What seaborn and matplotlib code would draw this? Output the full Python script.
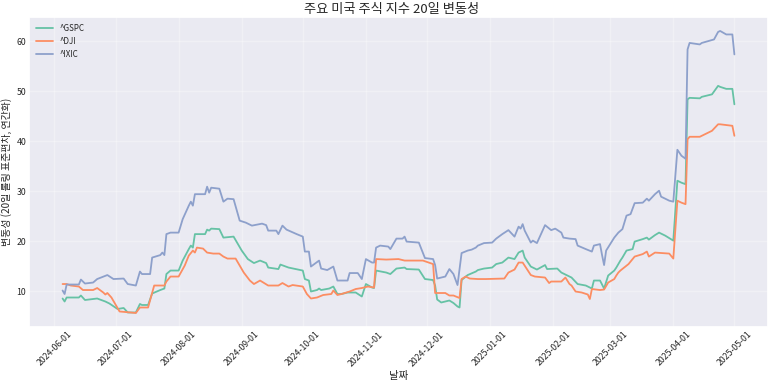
import pandas as pd
import matplotlib.pyplot as plt
import matplotlib.dates as mdates
import seaborn as sns

###Data###

tickers = ["^GSPC", "^DJI", "^IXIC"]

gspc_dates = ["2024-06-05", "2024-06-06", "2024-06-07", "2024-06-13", "2024-06-14", "2024-06-16", "2024-06-22",
              "2024-06-26", "2024-06-28", "2024-07-02", "2024-07-05", "2024-07-07", "2024-07-11", "2024-07-13",
              "2024-07-14", "2024-07-17", "2024-07-19", "2024-07-23", "2024-07-25", "2024-07-26", "2024-07-28",
              "2024-08-01", "2024-08-03", "2024-08-06", "2024-08-07", "2024-08-08", "2024-08-09", "2024-08-14",
              "2024-08-15", "2024-08-16", "2024-08-17", "2024-08-21", "2024-08-23", "2024-08-28", "2024-09-01",
              "2024-09-04", "2024-09-07", "2024-09-10", "2024-09-13", "2024-09-14", "2024-09-19", "2024-09-20",
              "2024-09-24", "2024-10-01", "2024-10-02", "2024-10-04", "2024-10-05", "2024-10-08", "2024-10-09",
              "2024-10-10", "2024-10-14", "2024-10-16", "2024-10-18", "2024-10-20", "2024-10-23", "2024-10-27",
              "2024-10-30", "2024-11-01", "2024-11-04", "2024-11-05", "2024-11-06", "2024-11-11", "2024-11-13",
              "2024-11-16", "2024-11-20", "2024-11-21", "2024-11-27", "2024-11-30", "2024-12-04", "2024-12-05",
              "2024-12-06", "2024-12-08", "2024-12-12", "2024-12-14", "2024-12-16", "2024-12-17", "2024-12-18",
              "2024-12-21", "2024-12-25", "2024-12-26", "2024-12-29", "2025-01-02", "2025-01-04", "2025-01-07",
              "2025-01-10", "2025-01-13", "2025-01-15", "2025-01-17", "2025-01-18", "2025-01-21", "2025-01-24",
              "2025-01-28", "2025-01-29", "2025-02-03", "2025-02-05", "2025-02-08", "2025-02-10", "2025-02-13",
              "2025-02-17", "2025-02-20", "2025-02-21", "2025-02-24", "2025-02-26", "2025-02-28", "2025-03-03",
              "2025-03-04", "2025-03-06", "2025-03-07", "2025-03-09", "2025-03-12", "2025-03-13", "2025-03-17",
              "2025-03-19", "2025-03-20", "2025-03-23", "2025-03-25", "2025-03-28", "2025-04-01", "2025-04-03",
              "2025-04-05", "2025-04-07", "2025-04-08", "2025-04-09", "2025-04-14", "2025-04-15", "2025-04-20",
              "2025-04-23", "2025-04-24", "2025-04-27", "2025-04-30", "2025-05-01"]
gspc_vol = [8.5, 7.9, 8.7, 8.7, 9.1, 8.2, 8.5,
            7.9, 7.5, 6.4, 6.6, 5.7, 5.7, 7.4,
            7.2, 7.2, 9.5, 10.2, 10.5, 13.4, 14.1,
            14.1, 16.1, 18.4, 19.1, 18.7, 21.4, 21.4,
            22.3, 22.1, 22.5, 22.4, 20.7, 20.9, 18.1,
            16.4, 15.6, 16.1, 15.6, 14.7, 14.4, 15.3,
            14.7, 14.1, 12.4, 12.1, 9.9, 10.2, 10.5,
            10.2, 10.5, 10.9, 9.4, 9.4, 9.7, 9.7,
            8.9, 11.4, 10.7, 10.6, 14.1, 13.7, 13.4,
            14.5, 14.7, 14.4, 14.3, 12.4, 12.2, 11.1,
            8.3, 7.7, 8.1, 7.6, 6.9, 6.7, 12.2,
            13.2, 13.9, 14.2, 14.5, 14.7, 15.4, 15.7,
            16.7, 16.4, 17.7, 18.1, 16.7, 14.9, 14.3,
            15.2, 14.4, 14.5, 13.7, 13.1, 12.7, 11.4,
            11.1, 10.5, 12.1, 12.1, 10.5, 13.1, 14.1,
            14.7, 16.1, 16.7, 18.1, 18.4, 19.9, 20.4,
            20.7, 20.3, 21.2, 21.7, 21.1, 20.1, 32.1,
            31.7, 31.4, 48.4, 48.7, 48.6, 48.9, 49.4,
            51.1, 50.9, 50.5, 50.5, 47.4]

dji_dates = ["2024-06-05", "2024-06-07", "2024-06-09", "2024-06-13", "2024-06-15", "2024-06-20", "2024-06-22",
             "2024-06-25", "2024-06-26", "2024-06-27", "2024-06-29", "2024-07-03", "2024-07-11", "2024-07-13",
             "2024-07-17", "2024-07-20", "2024-07-25", "2024-07-26", "2024-07-28", "2024-08-01", "2024-08-04",
             "2024-08-06", "2024-08-08", "2024-08-09", "2024-08-10", "2024-08-13", "2024-08-15", "2024-08-18",
             "2024-08-21", "2024-08-23", "2024-08-25", "2024-08-29", "2024-09-02", "2024-09-05", "2024-09-07",
             "2024-09-10", "2024-09-14", "2024-09-19", "2024-09-21", "2024-09-24", "2024-09-26", "2024-10-01",
             "2024-10-03", "2024-10-05", "2024-10-08", "2024-10-11", "2024-10-15", "2024-10-16", "2024-10-18",
             "2024-10-20", "2024-10-24", "2024-10-27", "2024-10-30", "2024-11-02", "2024-11-05", "2024-11-06",
             "2024-11-11", "2024-11-17", "2024-11-20", "2024-11-29", "2024-12-04", "2024-12-05", "2024-12-10",
             "2024-12-12", "2024-12-14", "2024-12-17", "2024-12-18", "2024-12-20", "2024-12-22", "2024-12-26",
             "2024-12-30", "2025-01-08", "2025-01-10", "2025-01-13", "2025-01-15", "2025-01-17", "2025-01-21",
             "2025-01-23", "2025-01-28", "2025-01-30", "2025-01-31", "2025-02-05", "2025-02-07", "2025-02-09",
             "2025-02-10", "2025-02-12", "2025-02-15", "2025-02-18", "2025-02-19", "2025-02-20", "2025-02-24",
             "2025-02-26", "2025-02-28", "2025-03-03", "2025-03-04", "2025-03-05", "2025-03-06", "2025-03-10",
             "2025-03-13", "2025-03-17", "2025-03-19", "2025-03-20", "2025-03-23", "2025-03-30", "2025-04-01",
             "2025-04-03", "2025-04-05", "2025-04-07", "2025-04-08", "2025-04-09", "2025-04-14", "2025-04-20",
             "2025-04-23", "2025-04-24", "2025-04-30", "2025-05-01"]
dji_vol = [11.4, 11.4, 11.1, 10.9, 10.2, 10.2, 10.6,
           9.7, 9.3, 9.6, 8.7, 5.9, 5.6, 6.7,
           6.7, 11.1, 11.1, 11.9, 12.9, 12.9, 15.1,
           17.1, 18.1, 17.7, 18.7, 18.5, 17.7, 17.5,
           17.5, 16.9, 16.5, 16.5, 13.7, 12.1, 11.4,
           12.1, 11.1, 11.1, 11.6, 10.9, 11.2, 10.9,
           9.4, 8.5, 8.7, 9.2, 9.4, 10.1, 9.2,
           9.4, 9.9, 10.4, 10.6, 10.9, 10.7, 16.4,
           16.3, 16.4, 16.1, 16.1, 15.4, 9.6, 9.6,
           9.1, 9.1, 8.6, 12.4, 12.9, 12.5, 12.4,
           12.4, 12.5, 13.7, 14.3, 15.7, 15.7, 13.2,
           12.9, 12.7, 11.6, 11.9, 11.9, 12.7, 11.4,
           11.1, 9.9, 9.7, 9.3, 8.4, 10.4, 10.2,
           10.3, 11.7, 12.4, 13.1, 13.7, 14.1, 15.4,
           16.9, 17.4, 17.9, 16.9, 17.7, 17.5, 16.5,
           28.1, 27.7, 27.4, 40.4, 40.9, 40.9, 42.1,
           43.4, 43.4, 43.1, 41.1]

ixic_dates = ["2024-06-05", "2024-06-06", "2024-06-07", "2024-06-13", "2024-06-14", "2024-06-16", "2024-06-20",
              "2024-06-22", "2024-06-27", "2024-06-30", "2024-07-05", "2024-07-07", "2024-07-11", "2024-07-13",
              "2024-07-14", "2024-07-18", "2024-07-19", "2024-07-23", "2024-07-24", "2024-07-25", "2024-07-26",
              "2024-07-28", "2024-08-01", "2024-08-03", "2024-08-06", "2024-08-07", "2024-08-08", "2024-08-09",
              "2024-08-14", "2024-08-15", "2024-08-16", "2024-08-17", "2024-08-21", "2024-08-23", "2024-08-25",
              "2024-08-28", "2024-08-31", "2024-09-03", "2024-09-06", "2024-09-11", "2024-09-13", "2024-09-14",
              "2024-09-18", "2024-09-19", "2024-09-21", "2024-09-23", "2024-09-28", "2024-10-01", "2024-10-02",
              "2024-10-04", "2024-10-05", "2024-10-09", "2024-10-10", "2024-10-13", "2024-10-16", "2024-10-18",
              "2024-10-23", "2024-10-24", "2024-10-28", "2024-10-30", "2024-11-01", "2024-11-04", "2024-11-05",
              "2024-11-06", "2024-11-08", "2024-11-12", "2024-11-13", "2024-11-16", "2024-11-19", "2024-11-20",
              "2024-11-21", "2024-11-27", "2024-11-30", "2024-12-04", "2024-12-05", "2024-12-06", "2024-12-10",
              "2024-12-12", "2024-12-14", "2024-12-16", "2024-12-18", "2024-12-21", "2024-12-23", "2024-12-25",
              "2024-12-26", "2024-12-29", "2025-01-02", "2025-01-04", "2025-01-07", "2025-01-10", "2025-01-13",
              "2025-01-15", "2025-01-16", "2025-01-17", "2025-01-18", "2025-01-21", "2025-01-22", "2025-01-24",
              "2025-01-28", "2025-01-31", "2025-02-02", "2025-02-05", "2025-02-06", "2025-02-09", "2025-02-12",
              "2025-02-13", "2025-02-17", "2025-02-20", "2025-02-21", "2025-02-24", "2025-02-25", "2025-02-26",
              "2025-02-27", "2025-03-01", "2025-03-03", "2025-03-05", "2025-03-07", "2025-03-09", "2025-03-11",
              "2025-03-13", "2025-03-17", "2025-03-19", "2025-03-20", "2025-03-23", "2025-03-25", "2025-03-26",
              "2025-03-30", "2025-04-01", "2025-04-03", "2025-04-05", "2025-04-07", "2025-04-08", "2025-04-09",
              "2025-04-14", "2025-04-15", "2025-04-21", "2025-04-23", "2025-04-24", "2025-04-27", "2025-04-30",
              "2025-05-01"]
ixic_vol = [10.1, 9.4, 11.3, 11.3, 12.3, 11.5, 11.7,
            12.4, 13.2, 12.4, 12.5, 11.4, 11.1, 13.9,
            13.4, 13.4, 16.7, 17.2, 17.7, 17.2, 21.4,
            21.7, 21.7, 24.4, 27.1, 27.9, 27.1, 29.4,
            29.4, 30.9, 29.7, 30.7, 30.5, 27.9, 28.5,
            28.4, 24.1, 23.7, 23.1, 23.5, 23.2, 22.1,
            22.1, 21.4, 23.1, 22.3, 21.4, 20.9, 17.9,
            17.9, 14.9, 16.1, 14.5, 14.2, 14.9, 12.1,
            12.1, 13.6, 13.6, 12.4, 16.4, 15.7, 15.7,
            18.7, 19.1, 18.9, 18.4, 20.5, 20.5, 20.9,
            19.9, 19.7, 16.6, 16.4, 15.2, 12.5, 12.9,
            14.4, 13.4, 11.2, 17.6, 18.1, 18.3, 18.7,
            19.1, 19.6, 19.7, 20.5, 21.4, 22.2, 20.9,
            22.9, 22.5, 23.4, 22.1, 19.7, 20.1, 19.6,
            23.2, 22.2, 22.5, 21.7, 20.7, 20.5, 20.4,
            19.1, 18.4, 17.9, 19.1, 19.4, 17.2, 15.2,
            18.1, 19.4, 20.7, 21.7, 22.4, 25.1, 25.4,
            27.6, 27.7, 28.5, 28.1, 29.4, 30.1, 28.9,
            28.1, 27.9, 38.3, 37.1, 36.5, 58.4, 59.7,
            59.4, 59.7, 60.4, 61.9, 62.1, 61.4, 61.4,
            57.4]

frames = []
for name, dates, vol in [("^GSPC", gspc_dates, gspc_vol),
                         ("^DJI", dji_dates, dji_vol),
                         ("^IXIC", ixic_dates, ixic_vol)]:
    frames.append(pd.DataFrame({"date": pd.to_datetime(dates), "vol": vol, "ticker": name}))
df = pd.concat(frames, ignore_index=True)

###Plot###

sns.set_theme(style="darkgrid")
plt.rcParams["font.family"] = ["Noto Sans CJK KR", "DejaVu Sans"]

fig, ax = plt.subplots(figsize=(7.73, 3.83), dpi=100)
sns.lineplot(data=df, x="date", y="vol", hue="ticker", hue_order=tickers,
             palette="Set2", linewidth=1.3, ax=ax)

ax.set_title("주요 미국 주식 지수 20일 변동성", fontsize=9.5, pad=3, x=0.491)
ax.set_xlabel("날짜", fontsize=7.5, labelpad=2)
ax.set_ylabel("변동성 (20일 롤링 표준편차, 연간화)", fontsize=7.2, labelpad=3)
ax.xaxis.set_major_locator(mdates.MonthLocator())
ax.xaxis.set_major_formatter(mdates.DateFormatter("%Y-%m-%d"))
ax.tick_params(axis="both", labelsize=6.3, pad=2, length=0)
plt.setp(ax.get_xticklabels(), rotation=45)
ax.grid(True, alpha=0.3)
ax.legend(loc="upper left", frameon=False, fontsize=5.8, handlelength=2.1)

fig.subplots_adjust(left=0.0375, right=0.9935, top=0.956, bottom=0.146)
fig.savefig("out.png", dpi=100)
